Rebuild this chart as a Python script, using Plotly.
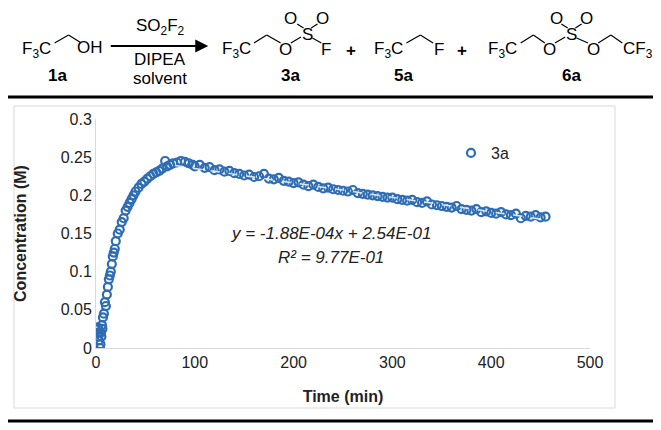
import plotly.graph_objects as go

W, H = 661, 430
BLUE = '#2E6DB4'
FONT = 'Liberation Sans, Arial'
PAGE_PAD = 8  # browser body margin around the plot div
HX = 1.27  # horizontal stretch for the reaction scheme

# concentration of 3a vs time
time_rise = [1, 1.5, 2, 2.5, 3, 3.5, 4, 4.5, 5, 5.5, 6, 6.5, 7, 8, 9, 10, 11, 12, 13, 14, 15, 16, 17,
             18, 19, 20, 22, 24, 26, 28, 30, 32, 34, 36, 38, 40, 43, 46, 49, 52, 55, 58, 61, 64, 67,
             70, 72, 75, 78, 82, 86, 90, 94, 98]
conc_rise = [0.020, 0.027, 0.015, 0.025, 0.010, 0.020, 0.000, 0.005, 0.020, 0.015, 0.030, 0.025, 0.040,
             0.045, 0.060, 0.055, 0.070, 0.080, 0.090, 0.095, 0.100, 0.110, 0.120, 0.125, 0.130, 0.140,
             0.150, 0.155, 0.165, 0.170, 0.180, 0.185, 0.190, 0.195, 0.200, 0.205, 0.210, 0.215, 0.218,
             0.222, 0.225, 0.228, 0.230, 0.232, 0.235, 0.245, 0.238, 0.240, 0.242, 0.243, 0.245, 0.244,
             0.242, 0.240]
time_decay = list(range(100, 460, 5))
conc_decay = [0.238, 0.240, 0.236, 0.237, 0.233, 0.234, 0.231, 0.232, 0.229, 0.228, 0.226, 0.227,
              0.224, 0.225, 0.228, 0.222, 0.221, 0.223, 0.219, 0.218, 0.216, 0.217, 0.214, 0.212,
              0.214, 0.211, 0.209, 0.210, 0.208, 0.207, 0.206, 0.205, 0.207, 0.203, 0.202, 0.201,
              0.200, 0.199, 0.198, 0.197, 0.197, 0.195, 0.194, 0.193, 0.194, 0.191, 0.190, 0.192,
              0.188, 0.187, 0.186, 0.185, 0.184, 0.186, 0.182, 0.181, 0.180, 0.182, 0.178, 0.179,
              0.177, 0.176, 0.178, 0.175, 0.174, 0.176, 0.170, 0.173, 0.172, 0.174, 0.171, 0.172]
trend_x = [80, 455]
trend_y = [0.239, 0.168]
y_ticks = [0, 0.05, 0.1, 0.15, 0.2, 0.25, 0.3]
y_labels = ['0', '0.05', '0.1', '0.15', '0.2', '0.25', '0.3']


def px(x, y):
    return (x - PAGE_PAD) / W, 1 - (y - PAGE_PAD) / H


fig = go.Figure()
fig.add_trace(go.Scatter(
    x=time_rise + time_decay, y=conc_rise + conc_decay, mode='markers', name='3a',
    marker=dict(symbol='circle-open', size=8, color=BLUE, line=dict(width=2.2)),
))
fig.add_trace(go.Scatter(
    x=trend_x, y=trend_y, mode='lines', showlegend=False,
    line=dict(color='#DDE8F5', width=1.5, dash='dash'),
))

ann = []
shapes = []


def text(x, y, s, size=16, bold=False, color='black'):
    xx, yy = px(x, y)
    ann.append(dict(x=xx, y=yy, xref='paper', yref='paper', text=f'<b>{s}</b>' if bold else s,
                    xanchor='center', yanchor='middle',
                    showarrow=False, font=dict(size=size, color=color, family=FONT)))


def htext(x, y, s, bold=False):
    text(x * HX, y + 3, s, size=17, bold=bold)


def bond(pts):
    for (x0, y0), (x1, y1) in zip(pts, pts[1:]):
        a, b = px(x0 * HX, y0 + 3)
        c, d = px(x1 * HX, y1 + 3)
        shapes.append(dict(type='line', xref='paper', yref='paper', x0=a, y0=b, x1=c, y1=d,
                           line=dict(color='black', width=1.2)))


# reaction scheme
htext(29, 47, 'F<sub>3</sub>C'); bond([(43, 40), (54, 32), (64, 40)]); htext(71, 45, 'OH')
htext(45, 72, '1a', bold=True)
xb, yb = px(164 * HX, 46)
ann.append(dict(x=xb, y=yb, ax=-int(78 * HX), ay=0, xref='paper', yref='paper', axref='pixel', ayref='pixel',
                showarrow=True, arrowhead=2, arrowsize=1.3, arrowwidth=2, arrowcolor='black', text=''))
htext(126, 24, 'SO<sub>2</sub>F<sub>2</sub>'); htext(126, 57, 'DIPEA'); htext(126, 75, 'solvent')

htext(186, 47, 'F<sub>3</sub>C'); bond([(200, 40), (210, 32), (221, 40)]); htext(225, 46, 'O')
bond([(229, 40), (237, 34)]); htext(242, 31, 'S'); htext(229, 15, 'O'); htext(254, 15, 'O')
bond([(239, 25), (234, 21)]); bond([(245, 25), (250, 21)]); bond([(246, 35), (253, 40)]); htext(257, 46, 'F')
htext(229, 72, '3a', bold=True)
htext(276, 47, '+', bold=True)
htext(306, 47, 'F<sub>3</sub>C'); bond([(320, 40), (331, 32), (341, 40)]); htext(346, 46, 'F')
htext(318, 72, '5a', bold=True)
htext(364, 47, '+', bold=True)
htext(396, 47, 'F<sub>3</sub>C'); bond([(410, 40), (420, 32), (429, 40)]); htext(433, 46, 'O')
bond([(437, 40), (445, 34)]); htext(450, 31, 'S'); htext(438, 15, 'O'); htext(462, 15, 'O')
bond([(447, 25), (442, 21)]); bond([(453, 25), (458, 21)]); bond([(454, 35), (463, 40)]); htext(467, 46, 'O')
bond([(471, 40), (481, 32), (490, 40)]); htext(502, 47, 'CF<sub>3</sub>')
htext(450, 72, '6a', bold=True)

text(331, 233, '<i>y = -1.88E-04x + 2.54E-01</i>', size=17, color='#222')
text(331, 257, '<i>R² = 9.77E-01</i>', size=17, color='#222')

for y0, w in [(97, 3), (421, 3)]:
    a, b = px(0, y0)
    shapes.append(dict(type='line', xref='paper', yref='paper', x0=0, x1=1, y0=b, y1=b,
                       line=dict(color='black', width=w)))
x0, y0 = px(14, 106); x1, y1 = px(615, 408)
shapes.append(dict(type='rect', xref='paper', yref='paper', x0=x0, x1=x1, y0=y1, y1=y0,
                   line=dict(color='#D9D9D9', width=1)))

dx0, _ = px(96, 0); dx1, _ = px(590, 0)
_, dy0 = px(0, 348); _, dy1 = px(0, 119)
lx, ly = px(451, 153)
fig.update_layout(
    width=W, height=H, margin=dict(l=0, r=0, t=0, b=0),
    paper_bgcolor='white', plot_bgcolor='white',
    font=dict(family=FONT, size=16, color='#222'),
    xaxis=dict(domain=[dx0, dx1], range=[0, 500], tickvals=[0, 100, 200, 300, 400, 500],
               showgrid=False, zeroline=False, showline=True, linecolor='#D9D9D9', automargin=False,
               title=dict(text='<b>Time (min)</b>', font=dict(size=16, color='#222'), standoff=20)),
    yaxis=dict(domain=[dy0, dy1], range=[0, 0.3], tickvals=y_ticks, ticktext=y_labels,
               showgrid=False, zeroline=False, showline=True, linecolor='#D9D9D9', automargin=False,
               title=dict(text='<b>Concentration (M)</b>', font=dict(size=16, color='#222'), standoff=30)),
    legend=dict(x=lx, y=ly, xanchor='left', yanchor='middle', bgcolor='rgba(0,0,0,0)',
                font=dict(size=16, color='#222')),
    annotations=ann, shapes=shapes,
)
fig.write_html('out.html')
